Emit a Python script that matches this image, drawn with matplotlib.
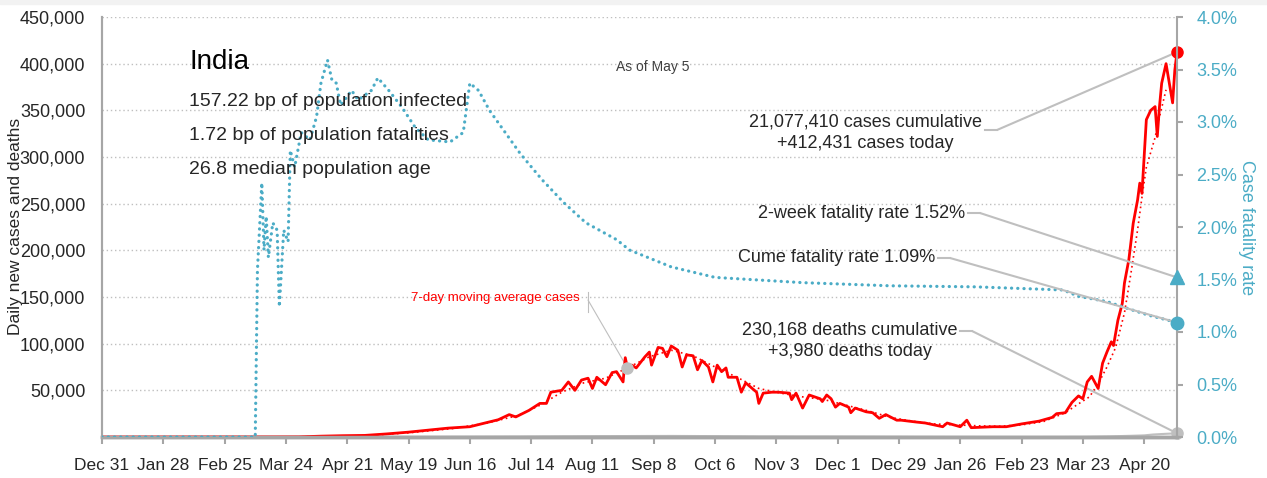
import matplotlib
matplotlib.use("Agg")
import matplotlib.pyplot as plt
import matplotlib.ticker as mticker
import pandas as pd
from matplotlib.lines import Line2D
from matplotlib.patches import Rectangle

plt.rcParams['font.family'] = ['Liberation Sans', 'DejaVu Sans']

W, H = 1267, 478
start = pd.Timestamp('2019-12-31')
end_day = 491  # May 5, 2021

# daily new cases (day number counted from Dec 31, 2019)
case_day = [0, 30, 60, 70, 80, 90, 100, 110, 120, 130, 140, 149, 158, 168, 174, 181,
            186, 189, 195, 200, 203, 205, 210, 213, 216, 219, 222, 224, 226, 230,
            233, 235, 238, 239, 240, 242, 244, 246, 248, 250, 251, 254, 256, 258,
            260, 263, 265, 267, 270, 272, 274, 277, 279, 281, 283, 285, 286, 290,
            292, 294, 299, 300, 302, 306, 309, 314, 315, 317, 320, 323, 328, 329,
            331, 333, 335, 337, 341, 342, 344, 349, 352, 355, 358, 363, 365, 372,
            376, 384, 386, 392, 395, 397, 407, 413, 420, 428, 434, 436, 440, 443,
            446, 448, 450, 452, 455, 457, 459, 461, 462, 464, 466, 467, 469, 471,
            473, 474, 475, 476, 477, 479, 481, 482, 483, 484, 486, 488, 489, 490, 491]
cases = [0, 0, 0, 20, 100, 150, 900, 1400, 1700, 3300, 5200, 7300, 9500, 11000, 14500, 18500,
         24000, 21500, 28500, 36000, 36000, 48000, 50000, 59000, 50000, 61000, 63000, 52000, 64000, 56000,
         69000, 70000, 59000, 85000, 74000, 77000, 74000, 80000, 86000, 91000, 77000, 96000, 95000, 86000,
         97500, 93000, 75000, 88000, 87000, 72000, 82000, 75000, 59000, 77000, 70000, 74000, 64000, 64000,
         48000, 58000, 48000, 36000, 47000, 48000, 48000, 47000, 40000, 47000, 31000, 45000, 41000, 38000,
         45000, 41000, 32000, 36000, 32000, 26000, 31000, 27000, 26000, 20000, 24000, 18000, 18000, 16000,
         15000, 11000, 15000, 11000, 18000, 10000, 11000, 11000, 14000, 17000, 21000, 25000, 26000, 37000,
         44000, 41000, 59000, 65000, 52000, 79000, 91000, 102000, 98000, 125000, 143000, 165000, 190000, 229000,
         254000, 272000, 261000, 300000, 340000, 350000, 354000, 322000, 354000, 379000, 400000, 372000, 358000, 393000, 412431]

# 7-day moving average of cases
ma_day = [0, 60, 75, 90, 105, 120, 140, 160, 175, 190, 200, 210, 220, 230, 240, 250,
          260, 270, 280, 290, 300, 310, 320, 330, 340, 350, 360, 370, 380, 390, 400,
          410, 420, 430, 440, 445, 451, 455, 459, 463, 467, 470, 473, 475, 477, 479,
          481, 483, 486]
ma_cases = [0, 0, 50, 150, 800, 1500, 4500, 9000, 14500, 23000, 34000, 48000, 58000, 63000, 74000, 86000,
            93000, 87000, 75000, 64000, 52000, 47000, 43000, 40000, 34000, 28000, 21000, 17000, 14000, 13000, 12000,
            11500, 13000, 16500, 26000, 34000, 43000, 57000, 75000, 96000, 133000, 176000, 222000, 257000, 289000, 305000,
            321000, 343000, 372000]

# daily deaths
death_day = [0, 70, 90, 120, 150, 170, 190, 210, 230, 250, 260, 280, 300, 320, 340,
             360, 380, 400, 420, 440, 450, 460, 470, 476, 480, 485, 491]
deaths = [0, 0, 50, 60, 200, 350, 500, 750, 950, 1100, 1150, 950, 600, 500, 450,
          300, 180, 130, 100, 170, 250, 650, 1300, 1750, 2650, 3300, 3980]

# cumulative case fatality rate, percent
cfr_day = [0, 70, 71, 73, 74, 75, 76, 78, 80, 81, 83, 85, 86, 88, 91, 95, 98, 100,
           103, 105, 107, 109, 114, 117, 123, 126, 131, 137, 143, 149, 159, 165, 168,
           172, 177, 191, 201, 211, 221, 235, 241, 260, 280, 320, 360, 399, 439, 446,
           459, 469, 478, 491]
cfr_pct = [0, 0, 1.59, 2.42, 1.78, 2.10, 1.71, 2.04, 1.97, 1.24, 1.97, 1.86, 2.73, 2.57, 2.90, 2.83, 3.05, 3.37,
           3.59, 3.40, 3.37, 3.16, 3.30, 3.21, 3.30, 3.42, 3.30, 3.14, 2.95, 2.83, 2.81, 2.90, 3.37,
           3.30, 3.11, 2.70, 2.45, 2.23, 2.04, 1.88, 1.78, 1.62, 1.52, 1.47, 1.44, 1.43, 1.40, 1.34,
           1.29, 1.22, 1.16, 1.09]

total_cases = 412431
today_deaths = 3980
two_week_cfr = 1.52
cume_cfr = 1.09
ma_note_day = 240

tick_labels = ['Dec 31', 'Jan 28', 'Feb 25', 'Mar 24', 'Apr 21', 'May 19', 'Jun 16',
               'Jul 14', 'Aug 11', 'Sep 8', 'Oct 6', 'Nov 3', 'Dec 1', 'Dec 29',
               'Jan 26', 'Feb 23', 'Mar 23', 'Apr 20']

RED = '#ff0000'
TEAL = '#4bacc6'
GRAY = '#bfbfbf'
AXIS = '#a6a6a6'
INK = '#262626'


def days(d):
    return start + pd.to_timedelta(d, unit='D')


def fp(x, y):
    # pixel position -> figure fraction
    return (x / W, 1 - y / H)


def stub(x0, x1, y, lw=1.5):
    fig.add_artist(Line2D([x0 / W, x1 / W], [1 - y / H, 1 - y / H],
                          transform=fig.transFigure, color=GRAY, lw=lw))


fig = plt.figure(figsize=(W / 100, H / 100), dpi=100)
fig.patches.append(Rectangle((0, 1 - 4 / H), 1, 4 / H, transform=fig.transFigure,
                             color='#f2f2f2', zorder=0))
ax = fig.add_axes([102 / W, 1 - 437 / H, (1177 - 102) / W, (437 - 17) / H])
ax2 = ax.twinx()

ax.plot(days(death_day), deaths, color=GRAY, lw=1.5, zorder=2)
ax.plot(days(ma_day), ma_cases, color=RED, lw=1.2, ls=(0, (1, 2)), zorder=3)
ax.plot(days(case_day), cases, color=RED, lw=2, zorder=4)
ax2.plot(days(cfr_day), cfr_pct, color=TEAL, lw=2.3, ls=(0, (0.05, 1.9)),
         dash_capstyle='round', zorder=3)

end = days(end_day)
ax.plot(end, total_cases, 'o', color=RED, ms=8, clip_on=False, zorder=6)
ax.plot(end, today_deaths, 'o', color=GRAY, ms=8, clip_on=False, zorder=6)
ax.plot(days(ma_note_day), 74000, 'o', color=GRAY, ms=8, zorder=6)
ax2.plot(end, two_week_cfr, '^', color=TEAL, ms=10, clip_on=False, zorder=6)
ax2.plot(end, cume_cfr, 'o', color=TEAL, ms=9, clip_on=False, zorder=6)

ax.set_xlim(start, end)
ax.set_ylim(0, 450000)
ax2.set_ylim(0, 4)

ax.set_xticks(pd.date_range(start, periods=len(tick_labels), freq='28D'))
ax.set_xticklabels(tick_labels)
ax.set_yticks(range(50000, 450001, 50000))
ax.yaxis.set_major_formatter(mticker.FuncFormatter(lambda v, p: f'{v:,.0f}'))
ax2.set_yticks([i * 0.5 for i in range(9)])
ax2.yaxis.set_major_formatter(mticker.FuncFormatter(lambda v, p: f'{v:.1f}%'))

ax.grid(axis='y', color=GRAY, lw=1, ls=(0, (1, 2)))
ax.set_axisbelow(True)
ax.tick_params(axis='y', length=0, pad=12, labelsize=13, labelcolor=INK)
ax.tick_params(axis='x', length=5, width=1.5, color=AXIS, pad=10, labelsize=12.5, labelcolor=INK)
ax2.tick_params(axis='y', length=4, width=1.5, color=AXIS, pad=10, labelsize=13, labelcolor=TEAL)

for a in (ax, ax2):
    a.spines['top'].set_visible(False)
    a.spines['left'].set_color(AXIS)
    a.spines['left'].set_linewidth(1.5)
    a.spines['right'].set_color(AXIS)
    a.spines['right'].set_linewidth(1.5)
    a.spines['bottom'].set_color(AXIS)
    a.spines['bottom'].set_linewidth(2.5)
ax.spines['right'].set_visible(False)

fig.text(*fp(16, 226), 'Daily new cases and deaths', rotation=90, ha='center',
         va='center', fontsize=12.5, color=INK)
fig.text(*fp(1246, 228), 'Case fatality rate', rotation=270, ha='center',
         va='center', fontsize=13, color=TEAL)

fig.text(*fp(189, 62), 'India', fontsize=20, va='center', color='black')
fig.text(*fp(189, 101), '157.22 bp of population infected', fontsize=14, va='center', color=INK)
fig.text(*fp(189, 135), '1.72 bp of population fatalities', fontsize=14, va='center', color=INK)
fig.text(*fp(189, 169), '26.8 median population age', fontsize=14, va='center', color=INK)
fig.text(*fp(653, 67), 'As of May 5', fontsize=10, ha='center', va='center', color='#404040')

fig.text(*fp(982, 133), '21,077,410 cases cumulative\n+412,431 cases today', fontsize=13,
         ha='right', va='center', multialignment='center', linespacing=1.35, color=INK)
fig.text(*fp(965, 213), '2-week fatality rate 1.52%', fontsize=13, ha='right', va='center', color=INK)
fig.text(*fp(935, 258), 'Cume fatality rate 1.09%', fontsize=13, ha='right', va='center', color=INK)
fig.text(*fp(958, 341), '230,168 deaths cumulative\n+3,980 deaths today', fontsize=13,
         ha='right', va='center', multialignment='center', linespacing=1.35, color=INK)
fig.text(*fp(580, 298), '7-day moving average cases', fontsize=9.5, ha='right', va='center', color=RED)

line = dict(arrowstyle='-', color=GRAY, lw=1.5, shrinkA=0, shrinkB=0)
stub(985, 997, 130)
ax.annotate('', xy=(end, total_cases), xytext=fp(997, 130), textcoords='figure fraction',
            arrowprops=line, annotation_clip=False)
stub(968, 980, 213)
ax2.annotate('', xy=(end, two_week_cfr), xytext=fp(980, 213), textcoords='figure fraction',
             arrowprops=line, annotation_clip=False)
stub(938, 950, 258)
ax2.annotate('', xy=(end, cume_cfr), xytext=fp(950, 258), textcoords='figure fraction',
             arrowprops=line, annotation_clip=False)
stub(960, 972, 331)
ax.annotate('', xy=(end, today_deaths), xytext=fp(972, 331), textcoords='figure fraction',
            arrowprops=line, annotation_clip=False)
fig.add_artist(Line2D([588 / W, 588 / W], [1 - 292 / H, 1 - 312 / H],
                      transform=fig.transFigure, color=GRAY, lw=0.8))
ax.annotate('', xy=(days(ma_note_day), 74000), xytext=fp(588, 300), textcoords='figure fraction',
            arrowprops=dict(arrowstyle='-', color=GRAY, lw=0.8, shrinkA=0, shrinkB=0))

fig.savefig('out.png', dpi=100)
